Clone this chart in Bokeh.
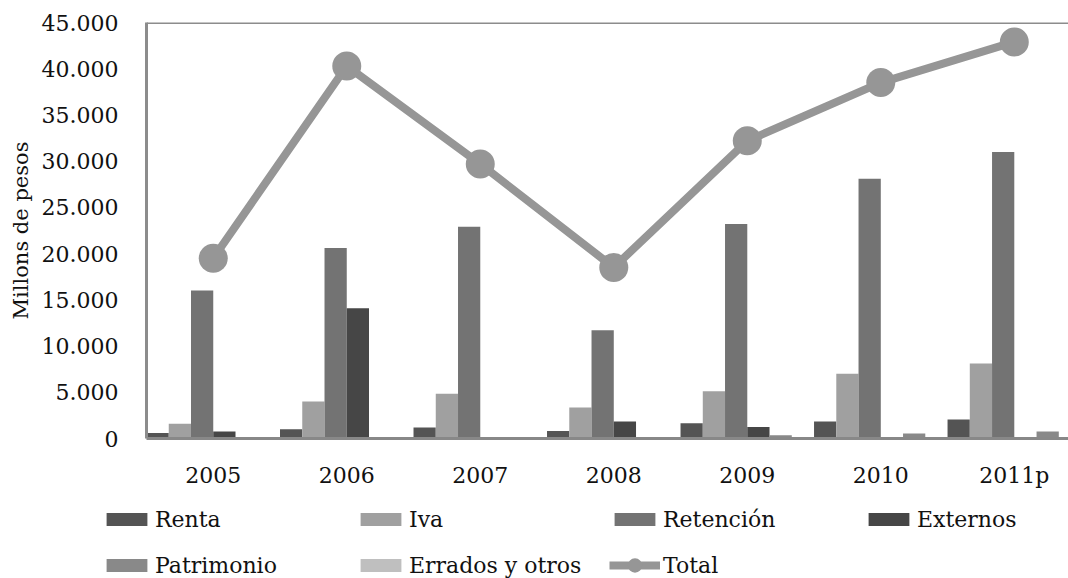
from bokeh.plotting import figure
from bokeh.layouts import column
from bokeh.models import (ColumnDataSource, Range1d, FixedTicker, Legend, LegendItem, Span)
from bokeh.transform import dodge
from bokeh.embed import file_html
from bokeh.resources import INLINE

years = ["2005", "2006", "2007", "2008", "2009", "2010", "2011p"]
renta = [600, 1000, 1200, 800, 1650, 1850, 2050]
iva = [1600, 4000, 4850, 3350, 5100, 7000, 8100]
retencion = [16000, 20600, 22900, 11700, 23200, 28100, 31000]
externos = [750, 14100, 150, 1850, 1250, 150, 150]
patrimonio = [150, 100, 100, 150, 350, 550, 750]
errados = [50, 50, 50, 50, 50, 50, 50]
total = [19500, 40300, 29700, 18500, 32200, 38500, 42900]
y_ticks = [0, 5000, 10000, 15000, 20000, 25000, 30000, 35000, 40000, 45000]

series = [("Renta", renta, "#545454"), ("Iva", iva, "#a0a0a0"),
          ("Retención", retencion, "#737373"), ("Externos", externos, "#464646"),
          ("Patrimonio", patrimonio, "#898989"), ("Errados y otros", errados, "#bfbfbf")]
TOTAL_COLOR = "#969696"

data = {"x": list(range(len(years))), "total": total}
for i, (name, vals, col) in enumerate(series):
    data["s%d" % i] = vals
src = ColumnDataSource(data)

FONT = "DejaVu Serif"
p = figure(width=1068, height=490, output_backend="svg", toolbar_location=None,
           x_range=Range1d(-0.5, 6.406), y_range=Range1d(0, 45000),
           min_border_left=146, min_border_right=0, min_border_top=22, min_border_bottom=50)
p.frame_align = False
p.outline_line_color = None
p.grid.visible = False

w = 1.0 / 6
for i, (name, vals, col) in enumerate(series):
    p.vbar(x=dodge("x", (i - 2.5) * w, range=p.x_range), top="s%d" % i, width=w,
           source=src, fill_color=col, line_color=None)

p.line(x="x", y="total", source=src, line_color=TOTAL_COLOR, line_width=8)
p.scatter(x="x", y="total", source=src, size=29, fill_color=TOTAL_COLOR, line_color=None)

p.add_layout(Span(location=45000, dimension="width", line_color="#8c8c8c", line_width=3))

# axes
p.xaxis.ticker = FixedTicker(ticks=list(range(len(years))))
p.xaxis.major_label_overrides = {i: y for i, y in enumerate(years)}
p.xaxis.major_tick_line_color = None
p.xaxis.minor_tick_line_color = None
p.xaxis.axis_line_color = "#888888"
p.xaxis.axis_line_width = 3
p.xaxis.major_label_text_font = FONT
p.xaxis.major_label_text_font_size = "22px"
p.xaxis.major_label_text_color = "#111111"
p.xaxis.major_label_standoff = 18

p.yaxis.ticker = FixedTicker(ticks=y_ticks)
p.yaxis.major_label_overrides = {t: "{:,}".format(t).replace(",", ".") for t in y_ticks}
p.yaxis.major_tick_line_color = None
p.yaxis.minor_tick_line_color = None
p.yaxis.axis_line_color = "#8c8c8c"
p.yaxis.axis_line_width = 3
p.yaxis.major_label_text_font = FONT
p.yaxis.major_label_text_font_size = "22px"
p.yaxis.major_label_text_color = "#111111"
p.yaxis.major_label_standoff = 22
p.yaxis.axis_label = "Millons de pesos"
p.yaxis.axis_label_text_font = FONT
p.yaxis.axis_label_text_font_size = "21px"
p.yaxis.axis_label_text_font_style = "normal"
p.yaxis.axis_label_text_color = "#111111"
p.yaxis.axis_label_standoff = 6

# legend panel below the chart (its own frame so that nothing is clipped)
lg = figure(width=1068, height=88, output_backend="svg", toolbar_location=None,
            x_axis_type=None, y_axis_type=None, x_range=Range1d(0, 1), y_range=Range1d(0, 1),
            min_border=0, min_border_left=0, min_border_right=0, min_border_top=0, min_border_bottom=0)
lg.frame_align = False
lg.outline_line_color = None
lg.grid.visible = False
items = []
for name, vals, col in series:
    r = lg.vbar(x=[5], top=[5], bottom=[4], width=0.1, fill_color=col, line_color=None)
    items.append(LegendItem(label=name, renderers=[r]))
ln = lg.line(x=[5, 6], y=[5, 5], line_color=TOTAL_COLOR, line_width=8)
sc = lg.scatter(x=[5], y=[5], size=14, fill_color=TOTAL_COLOR, line_color=None)

common = dict(orientation="horizontal", glyph_width=51, label_standoff=3, label_width=180,
              spacing=20, padding=0, margin=0, border_line_color=None, background_fill_alpha=0,
              label_text_font=FONT, label_text_font_size="22px", label_text_color="#111111")
legend = Legend(items=items, location=(101, 0), ncols=4, glyph_height=16, label_height=26, **common)
lg.add_layout(legend, "center")
legend_total = Legend(items=[LegendItem(label="Total", renderers=[ln, sc])], location=(609, -5),
                      glyph_height=36, label_height=36, **common)
lg.add_layout(legend_total, "center")

layout = column(p, lg, spacing=0)
open("out.html", "w").write(file_html(layout, INLINE))
